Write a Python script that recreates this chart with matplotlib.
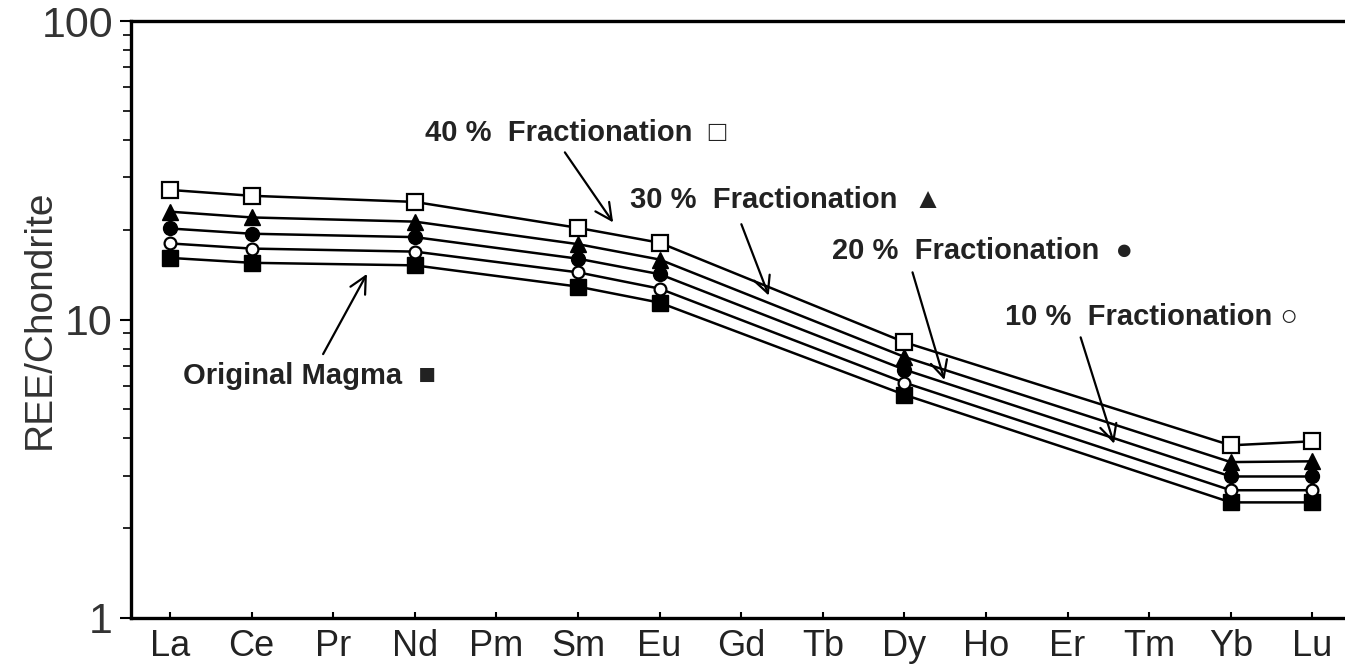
import numpy as np
import matplotlib
matplotlib.use('Agg')
import matplotlib.pyplot as plt
from matplotlib.ticker import LogLocator, FixedLocator, FuncFormatter, NullFormatter

plt.rcParams['font.family'] = ['Liberation Sans', 'DejaVu Sans']

# REE 元素（横轴标签）
elements = ['La', 'Ce', 'Pr', 'Nd', 'Pm', 'Sm', 'Eu', 'Gd', 'Tb', 'Dy', 'Ho', 'Er', 'Tm', 'Yb', 'Lu']
# 有数据的元素
measured = ['La', 'Ce', 'Nd', 'Sm', 'Eu', 'Dy', 'Yb', 'Lu']

# 球粒陨石标准化值
original = [16.1, 15.5, 15.2, 12.9, 11.4, 5.6, 2.44, 2.44]
frac10 = [18.0, 17.3, 16.9, 14.4, 12.7, 6.15, 2.68, 2.68]
frac20 = [20.2, 19.4, 18.9, 16.0, 14.2, 6.8, 2.98, 2.98]
frac30 = [23.0, 22.0, 21.3, 17.9, 15.9, 7.5, 3.33, 3.35]
frac40 = [27.2, 26.0, 24.8, 20.3, 18.1, 8.4, 3.79, 3.91]

xpos = [elements.index(e) for e in measured]

fig = plt.figure(figsize=(13.45, 6.72), dpi=100)
ax = fig.add_axes([0.0974, 0.0804, 0.9026, 0.888])

lw = 1.8
ax.plot(xpos, original, 'k-', lw=lw, marker='s', ms=11, mfc='k', mec='k', zorder=3)
ax.plot(xpos, frac20, 'k-', lw=lw, marker='o', ms=10, mfc='k', mec='k', zorder=3)
ax.plot(xpos, frac30, 'k-', lw=lw, marker='^', ms=12, mfc='k', mec='k', zorder=3)
ax.plot(xpos, frac10, 'k-', lw=lw, marker='o', ms=8.5, mfc='white', mec='k', mew=1.6, zorder=4)
ax.plot(xpos, frac40, 'k-', lw=lw, marker='s', ms=11, mfc='white', mec='k', mew=1.6, zorder=4)

ax.set_yscale('log')
ax.set_ylim(1, 100)
ax.set_xlim(-0.478, 14.4)

ax.xaxis.set_major_locator(FixedLocator(range(len(elements))))
ax.set_xticklabels(elements)
ax.tick_params(axis='x', direction='in', length=4, width=1.5, labelsize=26, pad=8, labelcolor='#222222')
ax.yaxis.set_major_locator(LogLocator(base=10, numticks=5))
ax.yaxis.set_minor_locator(LogLocator(base=10, subs=np.arange(2, 10), numticks=20))
ax.yaxis.set_major_formatter(FuncFormatter(lambda v, p: '%g' % v))
ax.yaxis.set_minor_formatter(NullFormatter())
ax.tick_params(axis='y', which='major', direction='out', length=8, width=1.5, labelsize=31, pad=5,
               labelcolor='#333333')
ax.tick_params(axis='y', which='minor', direction='out', length=6, width=1.2)
ax.set_ylabel('REE/Chondrite', fontsize=28, color='#333333', va='center')
ax.yaxis.set_label_coords(-0.075, 0.5)

ax.spines['right'].set_visible(False)
for s in ['left', 'top', 'bottom']:
    ax.spines[s].set_linewidth(2.4)

# 注释文字与箭头
fs = 21
aprops = dict(arrowstyle='->', lw=1.6, color='k', mutation_scale=30)
ax.text(3.125, 42.2, '40 %  Fractionation  \u25a1', fontsize=fs, va='center', weight='bold', color='#222222')
ax.annotate('', xy=(5.45, 20.8), xytext=(4.82, 37.0), arrowprops=aprops)
ax.text(5.64, 25.2, '30 %  Fractionation  \u25b2', fontsize=fs, va='center', weight='bold', color='#222222')
ax.annotate('', xy=(7.35, 11.8), xytext=(6.99, 21.3), arrowprops=aprops)
ax.text(8.11, 17.0, '20 %  Fractionation  \u25cf', fontsize=fs, va='center', weight='bold', color='#222222')
ax.annotate('', xy=(9.50, 6.15), xytext=(9.09, 14.7), arrowprops=aprops)
ax.text(10.23, 10.2, '10 %  Fractionation \u25cb', fontsize=fs, va='center', weight='bold', color='#222222')
ax.annotate('', xy=(11.58, 3.76), xytext=(11.15, 8.9), arrowprops=aprops)
ax.text(0.16, 6.45, 'Original Magma  \u25a0', fontsize=fs, va='center', weight='bold', color='#222222')
ax.annotate('', xy=(2.43, 14.5), xytext=(1.86, 7.52), arrowprops=aprops)

fig.savefig('out.png', dpi=100)
